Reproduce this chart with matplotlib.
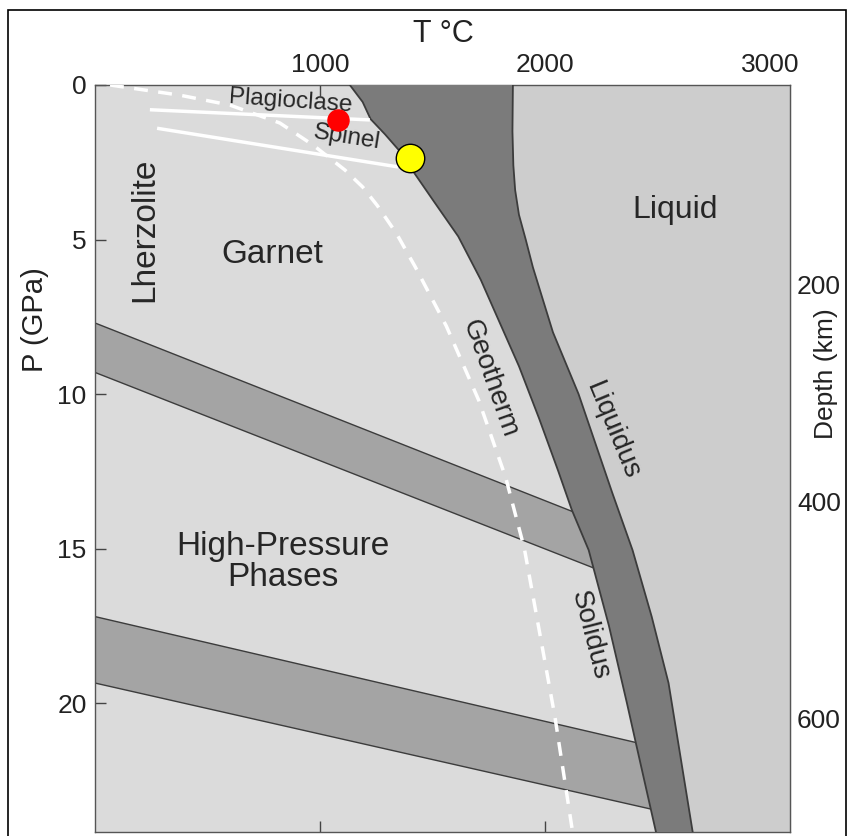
import matplotlib.pyplot as plt
from matplotlib.patches import Rectangle

plt.rcParams["font.family"] = ["Liberation Sans", "DejaVu Sans"]

# solidus / liquidus: temperature (C) against pressure (GPa)
solidus_T = [1133, 1190, 1225, 1290, 1350, 1415, 1505, 1615, 1715, 1800, 1885,
             1975, 2060, 2120, 2195, 2285, 2365, 2405, 2495]
solidus_P = [0, 0.55, 1.1, 1.6, 2.1, 2.8, 3.75, 4.9, 6.3, 7.7, 9.1,
             10.8, 12.5, 13.75, 15.05, 17.5, 20.0, 21.3, 24.2]
liquidus_T = [1858, 1856, 1860, 1868, 1885, 1915, 1947, 2036, 2150, 2300, 2390, 2475, 2550, 2658]
liquidus_P = [0, 1.5, 2.6, 3.4, 4.2, 5.0, 5.9, 8.0, 10.0, 13.2, 15.05, 17.2, 19.35, 24.2]

# geotherm
geo_T = [67, 378, 600, 822, 969, 1111, 1190, 1255, 1340, 1425, 1562, 1706, 1826, 1909, 2045, 2124]
geo_P = [0, 0.33, 0.65, 1.23, 1.94, 2.75, 3.3, 3.9, 4.8, 5.9, 7.8, 10.2, 12.7, 15.0, 20.45, 24.2]

# plagioclase-spinel and spinel-garnet boundaries
plag_T = [244, 1222]
plag_P = [0.8, 1.13]
spinel_T = [276, 1347]
spinel_P = [1.4, 2.65]

# high-pressure transition bands (upper edge, lower edge)
band1_top_T, band1_top_P = [0, 2140], [7.7, 13.85]
band1_bot_T, band1_bot_P = [0, 2225], [9.3, 15.65]
band2_top_T, band2_top_P = [0, 2420], [17.2, 21.3]
band2_bot_T, band2_bot_P = [0, 2485], [19.35, 23.45]

# marked points
red_pt = (1080, 1.13)
yellow_pt = (1400, 2.36)

T_max = 3090
P_max = 24.17

fig = plt.figure(figsize=(8.52, 8.36), dpi=100)
ax = fig.add_axes([95 / 852, 1 - 832 / 836, 695 / 852, 747 / 836])
ax.set_facecolor("#dbdbdb")

edge = "#3c3c3c"
band_col = "#a4a4a4"
for tT, tP, bT, bP in [(band1_top_T, band1_top_P, band1_bot_T, band1_bot_P),
                       (band2_top_T, band2_top_P, band2_bot_T, band2_bot_P)]:
    ax.fill(tT + bT[::-1], tP + bP[::-1], color=band_col, zorder=1, lw=0)
    ax.plot(tT, tP, color=edge, lw=1, zorder=1)
    ax.plot(bT, bP, color=edge, lw=1, zorder=1)

# liquid field
ax.fill(liquidus_T + [T_max + 50, T_max + 50], liquidus_P + [P_max + 1, -1],
        color="#cdcdcd", lw=0, zorder=2)
# partial melting field
ax.fill(solidus_T + liquidus_T[::-1], solidus_P + liquidus_P[::-1],
        facecolor="#7b7b7b", edgecolor="none", zorder=3)
ax.plot(solidus_T, solidus_P, color=edge, lw=1.3, zorder=3)
ax.plot(liquidus_T, liquidus_P, color=edge, lw=1.3, zorder=3)

ax.plot(plag_T, plag_P, color="white", lw=2.5, zorder=4, solid_capstyle="butt")
ax.plot(spinel_T, spinel_P, color="white", lw=2.5, zorder=4, solid_capstyle="butt")
ax.plot(geo_T, geo_P, color="white", lw=2.5, ls=(0, (4, 3)), zorder=4)

ax.scatter(*red_pt, s=230, color="red", zorder=6)
ax.scatter(*yellow_pt, s=420, color="yellow", edgecolors="black", linewidths=1, zorder=6)

txt = dict(color="#262626", ha="center", va="center", zorder=5)
ax.text(222, 4.7, "Lherzolite", fontsize=24, rotation=90, **txt)
ax.text(787, 5.5, "Garnet", fontsize=24, **txt)
ax.text(2580, 4.05, "Liquid", fontsize=23, **txt)
ax.text(836, 15.45, "High-Pressure\nPhases", fontsize=24, linespacing=1.0, **txt)
ax.text(871, 0.52, "Plagioclase", fontsize=17.5, rotation=-4, **txt)
ax.text(1120, 1.7, "Spinel", fontsize=17.5, rotation=-9, **txt)
ax.text(1756, 9.5, "Geotherm", fontsize=20, rotation=-70.5, **txt)
ax.text(2302, 11.2, "Liquidus", fontsize=20, rotation=-67.5, **txt)
ax.text(2200, 17.8, "Solidus", fontsize=20, rotation=-75.5, **txt)

ax.set_xlim(0, T_max)
ax.set_ylim(P_max, 0)
ax.set_xticks([1000, 2000, 3000])
ax.set_yticks([0, 5, 10, 15, 20])
ax.tick_params(direction="in", length=8, width=1, color="#444444", labelsize=19,
               labelcolor="#222222", top=True, bottom=True, labeltop=True,
               labelbottom=False, right=False, pad=6)
for s in ax.spines.values():
    s.set_color("#555555")
    s.set_linewidth(1)

# depth scale on the right
sec = ax.secondary_yaxis("right", functions=(lambda p: 28.5 * p + 15.6,
                                             lambda d: (d - 15.6) / 28.5))
sec.set_yticks([200, 400, 600])
sec.set_yticks([100, 300, 500, 700], minor=True)
sec.tick_params(which="both", direction="in", length=8, width=1, color="#444444",
                labelsize=19, labelcolor="#222222", pad=5)
sec.spines["right"].set_color("#555555")

lab = dict(color="#222222", ha="center", va="center")
fig.text(443 / 852, 1 - 34 / 836, "T °C", fontsize=22, **lab)
fig.text(35 / 852, 1 - 320 / 836, "P (GPa)", fontsize=21, rotation=90, **lab)
fig.text(826 / 852, 1 - 374 / 836, "Depth (km)", fontsize=19, rotation=90, **lab)

# outer frame
fig.patches.append(Rectangle((8 / 852, -0.01), 838 / 852, 1.0 - 10 / 836 + 0.01,
                             transform=fig.transFigure, fill=False, color="black", lw=1.2))

fig.savefig("out.png", dpi=100)
